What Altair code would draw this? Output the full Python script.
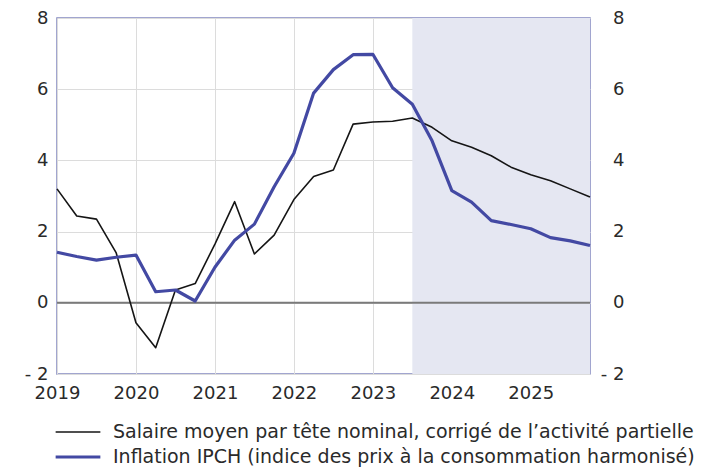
import altair as alt
import pandas as pd

quarters = ["2019T1","2019T2","2019T3","2019T4","2020T1","2020T2","2020T3","2020T4",
            "2021T1","2021T2","2021T3","2021T4","2022T1","2022T2","2022T3","2022T4",
            "2023T1","2023T2","2023T3","2023T4","2024T1","2024T2","2024T3","2024T4",
            "2025T1","2025T2","2025T3","2025T4"]
salaire = [3.2, 2.44, 2.35, 1.4, -0.56, -1.26, 0.36, 0.54,
           1.65, 2.84, 1.37, 1.9, 2.9, 3.55, 3.73, 5.02,
           5.08, 5.1, 5.19, 4.93, 4.55, 4.37, 4.13, 3.81,
           3.6, 3.43, 3.2, 2.97]
ipch = [1.42, 1.3, 1.2, 1.28, 1.34, 0.31, 0.36, 0.05,
        1.0, 1.76, 2.21, 3.26, 4.2, 5.89, 6.55, 6.97,
        6.98, 6.04, 5.58, 4.55, 3.15, 2.83, 2.31, 2.2,
        2.08, 1.83, 1.74, 1.61]
series_names = ["Salaire moyen par tête nominal, corrigé de l\u2019activité partielle",
                "Inflation IPCH (indice des prix à la consommation harmonisé)"]
shade_start = 2023.5
shade_end = 2025.75
year_ticks = [2019, 2020, 2021, 2022, 2023, 2024, 2025]
y_ticks = [-2, 0, 2, 4, 6, 8]

def qnum(q):
    return int(q[:4]) + (int(q[-1]) - 1) * 0.25

rows = []
for q, s, i in zip(quarters, salaire, ipch):
    rows.append({"t": qnum(q), "v": s, "serie": series_names[0]})
    rows.append({"t": qnum(q), "v": i, "serie": series_names[1]})
df = pd.DataFrame(rows)

FONT = "DejaVu Sans"
TXT = "#2a2a2a"
xscale = alt.Scale(domain=[2019, 2025.75], nice=False, zero=False)
yscale = alt.Scale(domain=[-2, 8], nice=False)
lab_expr = "datum.value < 0 ? '- ' + abs(datum.value) : datum.label"

shade = alt.Chart(pd.DataFrame({"a": [shade_start], "b": [shade_end]})).mark_rect(
    color="#e5e7f2").encode(
    x=alt.X("a:Q", scale=xscale,
            axis=alt.Axis(values=year_ticks, format="d", title=None, grid=True,
                          gridColor="#dcdcdc", ticks=False, domain=False, labelFlush=False,
                          labelFontSize=18, labelPadding=10, labelColor=TXT)),
    x2="b:Q",
    y=alt.value(0), y2=alt.value(356))

zero = alt.Chart(pd.DataFrame({"z": [0]})).mark_rule(color="#7a7a7a", strokeWidth=2).encode(
    y=alt.Y("z:Q", scale=yscale,
            axis=alt.Axis(values=y_ticks, title=None, grid=True, gridColor="#dcdcdc",
                          ticks=False, domain=False, labelFontSize=18, labelPadding=9,
                          labelColor=TXT, labelExpr=lab_expr)))

leg = alt.Legend(title=None, orient="none", legendX=8, legendY=402,
                 symbolType="M-2,0H2", symbolSize=500, padding=0,
                 labelFontSize=19, labelLimit=0, rowPadding=2,
                 labelColor=TXT, labelOffset=22)

lines = alt.Chart(df).mark_line(strokeJoin="round").encode(
    x=alt.X("t:Q", scale=xscale),
    y=alt.Y("v:Q", scale=yscale, axis=None),
    color=alt.Color("serie:N", scale=alt.Scale(domain=series_names, range=["#151515", "#4349a3"]),
                    legend=leg),
    strokeWidth=alt.StrokeWidth("serie:N", scale=alt.Scale(domain=series_names, range=[1.6, 3.2]),
                                legend=leg),
    order=alt.Order("t:Q"))

right = alt.Chart(pd.DataFrame({"z": [0]})).mark_point(opacity=0).encode(
    y=alt.Y("z:Q", scale=yscale,
            axis=alt.Axis(values=y_ticks, title=None, orient="right", grid=False,
                          ticks=False, domain=False, labelFontSize=18, labelPadding=34,
                          labelAlign="right", labelColor=TXT, labelExpr=lab_expr)))

chart = alt.layer(shade, zero, lines, right).resolve_axis(y="independent").properties(
    width=533, height=356,
    autosize=alt.AutoSizeParams(type="none"),
    padding={"left": 49, "top": 10, "right": 115, "bottom": 98}
).configure(font=FONT).configure_view(stroke="#8288c0", strokeWidth=1.5)

chart.save("out.html", embed_options={"renderer": "svg", "actions": False})
